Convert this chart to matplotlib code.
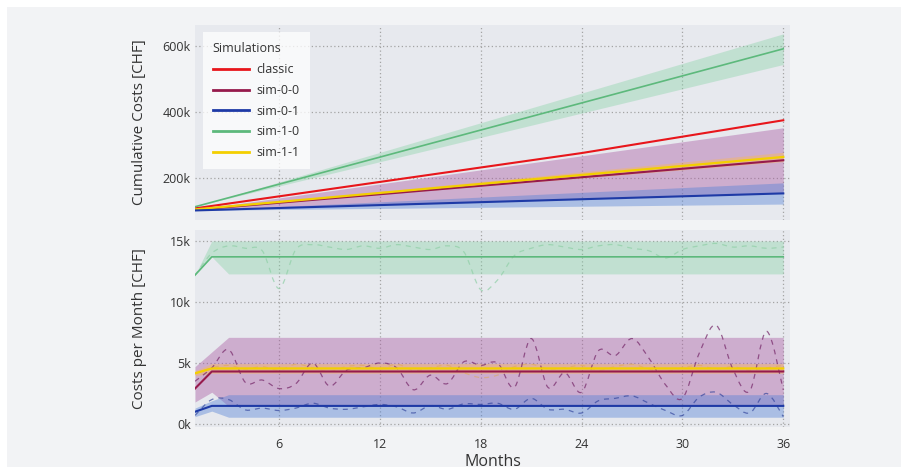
import numpy as np
import matplotlib
matplotlib.use("Agg")
import matplotlib.pyplot as plt
from matplotlib.ticker import FuncFormatter
from matplotlib.path import Path
from matplotlib.patches import PathPatch

plt.rcParams['font.family'] = ['Open Sans', 'DejaVu Sans']

months = list(range(1, 37))
initial_cost = 100000

# monthly mean costs [CHF]
classic_mean = [7300, 7300, 7300, 7300, 7300, 7300, 7300, 7300, 7300, 7300, 7300, 7300,
                7300, 7300, 7300, 7300, 7300, 7300, 7300, 7300, 7300, 7300, 7300, 7300,
                8300, 8300, 8300, 8300, 8300, 8300, 8300, 8300, 8300, 8300, 8300, 8300]
sim00_mean = [2900, 4300, 4300, 4300, 4300, 4300, 4300, 4300, 4300, 4300, 4300, 4300,
              4300, 4300, 4300, 4300, 4300, 4300, 4300, 4300, 4300, 4300, 4300, 4300,
              4300, 4300, 4300, 4300, 4300, 4300, 4300, 4300, 4300, 4300, 4300, 4300]
sim01_mean = [1000, 1480, 1480, 1480, 1480, 1480, 1480, 1480, 1480, 1480, 1480, 1480,
              1480, 1480, 1480, 1480, 1480, 1480, 1480, 1480, 1480, 1480, 1480, 1480,
              1480, 1480, 1480, 1480, 1480, 1480, 1480, 1480, 1480, 1480, 1480, 1480]
sim10_mean = [12200, 13700, 13700, 13700, 13700, 13700, 13700, 13700, 13700, 13700, 13700, 13700,
              13700, 13700, 13700, 13700, 13700, 13700, 13700, 13700, 13700, 13700, 13700, 13700,
              13700, 13700, 13700, 13700, 13700, 13700, 13700, 13700, 13700, 13700, 13700, 13700]
sim11_mean = [4150, 4550, 4550, 4550, 4550, 4550, 4550, 4550, 4550, 4550, 4550, 4550,
              4550, 4550, 4550, 4550, 4550, 4550, 4550, 4550, 4550, 4550, 4550, 4550,
              4550, 4550, 4550, 4550, 4550, 4550, 4550, 4550, 4550, 4550, 4550, 4550]

# monthly bands (lower / upper)
sim00_low = [1800, 2600, 1450, 1450, 1450, 1450, 1450, 1450, 1450, 1450, 1450, 1450,
             1450, 1450, 1450, 1450, 1450, 1450, 1450, 1450, 1450, 1450, 1450, 1450,
             1450, 1450, 1450, 1450, 1450, 1450, 1450, 1450, 1450, 1450, 1450, 1450]
sim00_high = [4700, 5900, 7100, 7100, 7100, 7100, 7100, 7100, 7100, 7100, 7100, 7100,
              7100, 7100, 7100, 7100, 7100, 7100, 7100, 7100, 7100, 7100, 7100, 7100,
              7100, 7100, 7100, 7100, 7100, 7100, 7100, 7100, 7100, 7100, 7100, 7100]
sim01_low = [600, 1050, 550, 550, 550, 550, 550, 550, 550, 550, 550, 550,
             550, 550, 550, 550, 550, 550, 550, 550, 550, 550, 550, 550,
             550, 550, 550, 550, 550, 550, 550, 550, 550, 550, 550, 550]
sim01_high = [1300, 1900, 2400, 2400, 2400, 2400, 2400, 2400, 2400, 2400, 2400, 2400,
              2400, 2400, 2400, 2400, 2400, 2400, 2400, 2400, 2400, 2400, 2400, 2400,
              2400, 2400, 2400, 2400, 2400, 2400, 2400, 2400, 2400, 2400, 2400, 2400]
sim10_low = [12200, 13700, 12300, 12300, 12300, 12300, 12300, 12300, 12300, 12300, 12300, 12300,
             12300, 12300, 12300, 12300, 12300, 12300, 12300, 12300, 12300, 12300, 12300, 12300,
             12300, 12300, 12300, 12300, 12300, 12300, 12300, 12300, 12300, 12300, 12300, 12300]
sim10_high = [12200, 15000, 15000, 15000, 15000, 15000, 15000, 15000, 15000, 15000, 15000, 15000,
              15000, 15000, 15000, 15000, 15000, 15000, 15000, 15000, 15000, 15000, 15000, 15000,
              15000, 15000, 15000, 15000, 15000, 15000, 15000, 15000, 15000, 15000, 15000, 15000]
sim11_low = [3950, 4150, 4150, 4150, 4150, 4150, 4150, 4150, 4150, 4150, 4150, 4150,
             4150, 4150, 4150, 4150, 4150, 4150, 4150, 4150, 4150, 4150, 4150, 4150,
             4150, 4150, 4150, 4150, 4150, 4150, 4150, 4150, 4150, 4150, 4150, 4150]
sim11_high = [4350, 4950, 4950, 4950, 4950, 4950, 4950, 4950, 4950, 4950, 4950, 4950,
              4950, 4950, 4950, 4950, 4950, 4950, 4950, 4950, 4950, 4950, 4950, 4950,
              4950, 4950, 4950, 4950, 4950, 4950, 4950, 4950, 4950, 4950, 4950, 4950]

# single sample runs (dashed)
sim00_sample = [3500, 4600, 6100, 3400, 3600, 2900, 3300, 5000, 3100, 4400, 4600, 5000,
                4600, 2800, 4000, 3300, 5100, 4800, 5000, 3000, 7000, 3000, 4200, 2600,
                6000, 5600, 7000, 5400, 3200, 2100, 5800, 8100, 4500, 2700, 7600, 2800]
sim01_sample = [700, 2000, 2000, 1150, 1300, 1100, 1300, 1700, 1300, 1200, 1400, 1600,
                1400, 900, 1500, 1200, 1650, 1600, 1700, 1200, 2100, 1200, 1200, 900,
                1900, 2100, 2300, 1700, 1100, 700, 2200, 2600, 1600, 900, 2500, 600]
sim10_sample = [12200, 14000, 14600, 14400, 14200, 11100, 14300, 14700, 14500, 14300, 14600, 14400,
                14700, 14500, 14300, 14600, 14100, 11000, 11800, 13800, 14400, 14700, 14500, 14300,
                14600, 14700, 14400, 14200, 13600, 14300, 14600, 14800, 14500, 14600, 14400, 14500]
sim11_sample = [4100, 4600, 4800, 4500, 4700, 4400, 4900, 4600, 4300, 4700, 4800, 4500,
                4900, 4400, 4600, 4800, 4200, 3800, 4000, 4700, 4900, 4500, 4600, 4800,
                4400, 4700, 4900, 4500, 4300, 4600, 4800, 4500, 4700, 4400, 4600, 4800]

labels = ['classic', 'sim-0-0', 'sim-0-1', 'sim-1-0', 'sim-1-1']
line_colors = ['#e8161b', '#961a4c', '#1e3aa6', '#5db97c', '#f3cf00']
line_widths = [1.5, 1.5, 1.5, 1.2, 1.6]
band_colors = [None, '#a855a0', '#4f7fd6', '#7fd1a0', '#ffb84d']
band_alpha = [0, 0.40, 0.40, 0.36, 0.40]
dash_colors = [None, '#7a2e6e', '#2c3f99', '#8fcfa6', '#e0a840']
dash_alpha = [0, 0.75, 0.65, 0.7, 0.45]

means = [classic_mean, sim00_mean, sim01_mean, sim10_mean, sim11_mean]
lows = [None, sim00_low, sim01_low, sim10_low, sim11_low]
highs = [None, sim00_high, sim01_high, sim10_high, sim11_high]
samples = [None, sim00_sample, sim01_sample, sim10_sample, sim11_sample]


def spline_path(xs, ys):
    """Smooth (Catmull-Rom style) Bezier path through the data points."""
    xs = np.asarray(xs, dtype=float)
    ys = np.asarray(ys, dtype=float)
    pts = np.column_stack([xs, ys])
    n = len(pts)
    verts = [pts[0]]
    codes = [Path.MOVETO]
    for k in range(n - 1):
        p0 = pts[k - 1] if k > 0 else pts[k]
        p1 = pts[k]
        p2 = pts[k + 1]
        p3 = pts[k + 2] if k + 2 < n else pts[k + 1]
        c1 = p1 + (p2 - p0) / 6.0
        c2 = p2 - (p3 - p1) / 6.0
        verts += [c1, c2, p2]
        codes += [Path.CURVE4] * 3
    return Path(np.array(verts), codes)


fig = plt.figure(figsize=(9.07, 4.73), dpi=100, facecolor='#f2f3f5')
fig.patch.set_edgecolor('white')
fig.patch.set_linewidth(9)

ax1 = fig.add_axes([195/907, 1-220/473, 595/907, 195/473])
ax2 = fig.add_axes([195/907, 1-427/473, 595/907, 197/473])

x = np.array(months)
for ax in (ax1, ax2):
    ax.set_facecolor('#e7e9ee')
    for s in ax.spines.values():
        s.set_visible(False)
    ax.grid(True, linestyle=(0, (1, 2)), color='#a4a4a4', lw=0.9)
    ax.set_axisbelow(True)
    ax.tick_params(length=0, labelsize=9, labelcolor='#333333', pad=3)
    ax.set_xlim(1, 36.4)
    ax.set_xticks([6, 12, 18, 24, 30, 36])

fill_order = [1, 2, 4, 3]
for i in fill_order:
    lo = np.array(lows[i], dtype=float)
    hi = np.array(highs[i], dtype=float)
    ax2.fill_between(x, lo, hi, color=band_colors[i], alpha=band_alpha[i], lw=0, zorder=1)
    ax1.fill_between(x, initial_cost + np.cumsum(lo), initial_cost + np.cumsum(hi),
                     color=band_colors[i], alpha=band_alpha[i], lw=0, zorder=1)

for i in [3, 4, 1, 2]:
    patch = PathPatch(spline_path(x, samples[i]), facecolor='none',
                      edgecolor=dash_colors[i], alpha=dash_alpha[i], lw=0.9,
                      linestyle=(0, (4, 4)), zorder=2)
    ax2.add_patch(patch)

for i in [0, 3, 1, 4, 2]:
    m = np.array(means[i], dtype=float)
    ax1.plot(x, initial_cost + np.cumsum(m), color=line_colors[i], lw=line_widths[i],
             zorder=3, label=labels[i])
    if i != 0:
        ax2.plot(x, m, color=line_colors[i], lw=line_widths[i], zorder=3)

hs, ls = ax1.get_legend_handles_labels()
order = [ls.index(l) for l in labels]
leg = ax1.legend([hs[k] for k in order], [ls[k] for k in order], title='Simulations',
                 loc='upper left', bbox_to_anchor=(0.013, 0.962), borderaxespad=0,
                 fontsize=9, title_fontsize=9, alignment='left', frameon=True,
                 fancybox=False, handlelength=2.9, handletextpad=0.6, labelspacing=0.62,
                 borderpad=0.8)
leg.get_frame().set_facecolor('white')
leg.get_frame().set_alpha(0.75)
leg.get_frame().set_edgecolor('none')
for t in leg.get_texts():
    t.set_color('#333333')
leg.get_title().set_color('#333333')
for l in leg.get_lines():
    l.set_linewidth(2)

ax1.set_ylim(72000, 664000)
ax1.set_yticks([200000, 400000, 600000])
ax1.yaxis.set_major_formatter(FuncFormatter(lambda v, p: f"{int(round(v/1000))}k"))
ax1.tick_params(axis='x', labelbottom=False)

ax2.set_ylim(-250, 15900)
ax2.set_yticks([0, 5000, 10000, 15000])
ax2.yaxis.set_major_formatter(FuncFormatter(lambda v, p: f"{int(round(v/1000))}k"))
ax2.tick_params(axis='x', pad=8)

ax1.set_ylabel('Cumulative Costs [CHF]', fontsize=11, color='#333333')
ax2.set_ylabel('Costs per Month [CHF]', fontsize=11, color='#333333')
ax2.set_xlabel('Months', fontsize=11.5, color='#333333', labelpad=2)
ax1.yaxis.set_label_coords(-48/595, 0.5)
ax2.yaxis.set_label_coords(-48/595, 0.5)

fig.savefig('out.png', dpi=100, facecolor=fig.get_facecolor(), edgecolor=fig.patch.get_edgecolor())
